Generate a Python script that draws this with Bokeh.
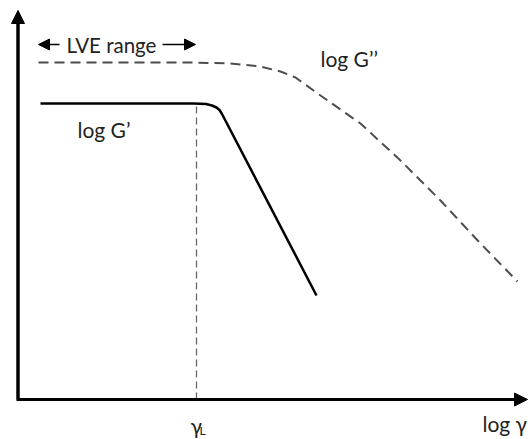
from bokeh.plotting import figure
from bokeh.models import Range1d, Arrow, NormalHead
from bokeh.core.properties import value
from bokeh.embed import file_html
from bokeh.resources import INLINE

# Schematic strain sweep: log G' and log G'' against log strain amplitude
# (arbitrary units, origin at the axes corner)
gp_x = [22.5, 176, 188, 194, 198.5, 201.5, 204, 298.5]
gp_y = [296, 296, 295.5, 294, 292, 289.5, 285.5, 104]

gpp_x = [20.5, 172.5, 212.5, 242.5, 262.5, 277.5, 302.5, 342.5, 382.5, 422.5, 462.5, 499.5]
gpp_y = [337, 337, 336, 333, 328, 322, 304, 276, 239, 199, 156, 118]

gamma_L = 178.5          # limit of the linear viscoelastic region
plateau_gp = 296         # G' plateau level
x_axis_end = 509.5
y_axis_end = 389
lve_y = 355

FONT = "Lato"
INK = "#222222"

p = figure(width=532, height=439, output_backend="svg", toolbar_location=None,
           x_range=Range1d(-17.5, 514.5), y_range=Range1d(-40, 399),
           min_border=0, outline_line_color=None)
p.axis.visible = False
p.grid.visible = False
p.background_fill_color = "white"
p.border_fill_color = "white"

# Axes drawn as arrows
p.line([0, 0, x_axis_end - 10], [y_axis_end - 10, 0, 0], line_color="black",
       line_width=3, line_join="miter")
p.add_layout(Arrow(end=NormalHead(size=13, fill_color="black", line_color="black", line_width=1),
                   x_start=0, y_start=0, x_end=0, y_end=y_axis_end,
                   line_color="black", line_width=3))
p.add_layout(Arrow(end=NormalHead(size=13, fill_color="black", line_color="black", line_width=1),
                   x_start=0, y_start=0, x_end=x_axis_end, y_end=0,
                   line_color="black", line_width=3))

# Vertical marker at gamma_L
p.line([gamma_L, gamma_L], [0, plateau_gp], line_color="#666666", line_width=1.3,
       line_dash="7 4")

# log G'' (dashed) and log G' (solid)
p.line(gpp_x, gpp_y, line_color="#4d4d4d", line_width=2, line_dash="10 6")
p.line(gp_x, gp_y, line_color="black", line_width=2.5, line_join="round")

# LVE range double arrow with label
p.add_layout(Arrow(end=NormalHead(size=11, fill_color="black", line_color="black", line_width=1),
                   x_start=41.5, y_start=lve_y, x_end=20.5, y_end=lve_y,
                   line_color="black", line_width=1.5))
p.add_layout(Arrow(end=NormalHead(size=11, fill_color="black", line_color="black", line_width=1),
                   x_start=144.5, y_start=lve_y, x_end=177.5, y_end=lve_y,
                   line_color="black", line_width=1.5))

p.text(x=[48.5], y=[lve_y], text=["LVE range"], text_font=value(FONT),
       text_font_size="20.5px", text_color=INK, text_baseline="alphabetic")
p.text(x=[302.5], y=[341], text=["log G\u2019\u2019"], text_font=value(FONT),
       text_font_size="21px", text_color=INK, text_baseline="alphabetic")
p.text(x=[59.5], y=[270], text=["log G\u2019"], text_font=value(FONT),
       text_font_size="21px", text_color=INK, text_baseline="alphabetic")
p.text(x=[464.5], y=[-24], text=["log \u03b3"], text_font=value(FONT),
       text_font_size="21px", text_color=INK, text_baseline="alphabetic")
p.text(x=[172.5], y=[-26], text=["\u03b3"], text_font=value(FONT),
       text_font_size="21px", text_color=INK, text_baseline="alphabetic")
p.text(x=[181.5], y=[-31], text=["L"], text_font=value(FONT),
       text_font_size="12px", text_color=INK, text_baseline="alphabetic")

open("out.html", "w").write(file_html(p, INLINE))
